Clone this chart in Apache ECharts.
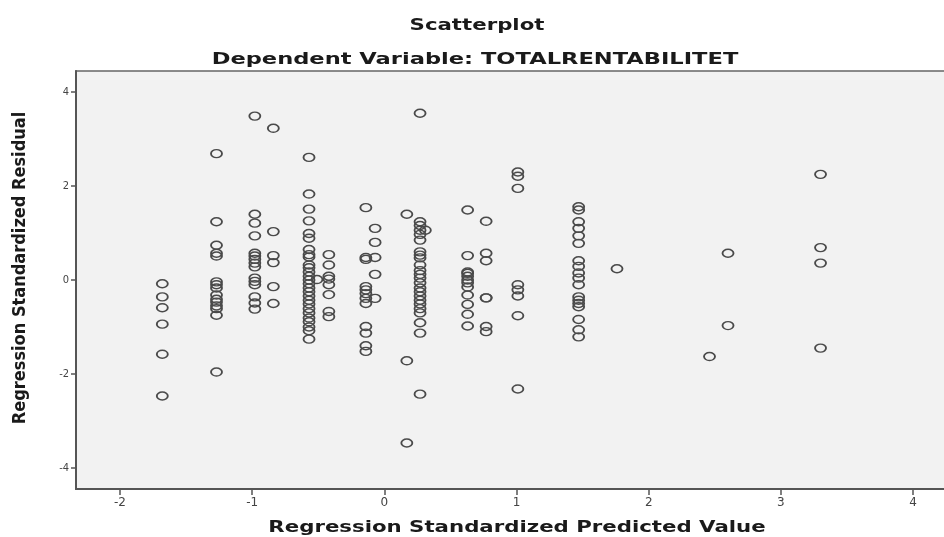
<!DOCTYPE html>
<html>
<head>
<meta charset="utf-8">
<script src="https://cdn.jsdelivr.net/npm/echarts@6/dist/echarts.min.js"></script>
<style>
html,body{margin:0;padding:0;background:#fff;}
#chart{width:944px;height:537px;}
</style>
</head>
<body>
<div id="chart"></div>
<script>
// Predicted value columns (x) and the standardized residuals found at each
const predictedCols = [-1.68, -1.27, -0.98, -0.84, -0.57, -0.51, -0.42, -0.14, -0.07, 0.17, 0.27, 0.31, 0.63, 0.77, 1.01, 1.47, 1.76, 2.46, 2.60, 3.30];
const residualCols = [
  [-0.08, -0.36, -0.59, -0.94, -1.58, -2.47],
  [2.69, 1.24, 0.74, 0.57, 0.51, -0.04, -0.10, -0.17, -0.32, -0.41, -0.47, -0.55, -0.61, -0.75, -1.96],
  [3.49, 1.40, 1.21, 0.94, 0.57, 0.51, 0.44, 0.36, 0.28, 0.04, -0.03, -0.10, -0.36, -0.49, -0.62],
  [3.23, 1.03, 0.52, 0.37, -0.14, -0.50],
  [2.61, 1.83, 1.51, 1.26, 0.99, 0.89, 0.65, 0.54, 0.49, 0.32, 0.26, 0.17, 0.08, 0.00, -0.08, -0.17, -0.25, -0.34, -0.43, -0.51, -0.61, -0.70, -0.81, -0.89, -1.00, -1.08, -1.26],
  [0.01],
  [0.54, 0.32, 0.08, 0.02, -0.10, -0.31, -0.67, -0.78],
  [1.54, 0.48, 0.44, -0.14, -0.21, -0.29, -0.39, -0.50, -0.99, -1.13, -1.40, -1.52],
  [1.10, 0.80, 0.48, 0.12, -0.39],
  [1.40, -1.72, -3.47],
  [3.55, 1.24, 1.16, 1.06, 0.97, 0.85, 0.60, 0.53, 0.47, 0.32, 0.20, 0.12, 0.04, -0.06, -0.17, -0.25, -0.34, -0.43, -0.51, -0.61, -0.70, -0.91, -1.13, -2.43],
  [1.06],
  [1.49, 0.52, 0.17, 0.14, 0.08, 0.00, -0.06, -0.15, -0.32, -0.52, -0.73, -0.98],
  [1.25, 0.57, 0.41, -0.38, -0.38, -0.99, -1.10],
  [2.30, 2.21, 1.95, -0.10, -0.21, -0.34, -0.76, -2.32],
  [1.56, 1.49, 1.24, 1.10, 0.94, 0.78, 0.41, 0.29, 0.15, 0.04, -0.10, -0.36, -0.43, -0.50, -0.57, -0.84, -1.06, -1.21],
  [0.24],
  [-1.63],
  [0.57, -0.97],
  [2.25, 0.69, 0.36, -1.45]
];
const xTickValues = [-2, -1, 0, 1, 2, 3, 4];
const yTickValues = [-4, -2, 0, 2, 4];
const titleText = 'Scatterplot';
const subtitleText = 'Dependent Variable: TOTALRENTABILITET';
const xAxisTitle = 'Regression Standardized Predicted Value';
const yAxisTitle = 'Regression Standardized Residual';

const points = [];
predictedCols.forEach((x, i) => {
  residualCols[i].forEach(y => points.push([x, y]));
});

function wideText(text, x, y, sx) {
  return {
    type: 'text', x: x, y: y, scaleX: sx, scaleY: 1, silent: true,
    style: {
      text: text, fill: '#1a1a1a',
      font: 'bold 16px "DejaVu Sans"',
      align: 'center', verticalAlign: 'middle'
    }
  };
}

const chart = echarts.init(document.getElementById('chart'), null, {renderer: 'canvas'});
chart.setOption({
  animation: false,
  backgroundColor: '#ffffff',
  graphic: [
    wideText(titleText, 477, 26, 1.33),
    wideText(subtitleText, 475, 60, 1.41),
    wideText(xAxisTitle, 517, 528, 1.33),
    {
      type: 'text', x: 20, y: 268, rotation: Math.PI / 2, silent: true,
      style: {
        text: yAxisTitle, fill: '#1a1a1a',
        font: 'bold 18px "DejaVu Sans Condensed"',
        align: 'center', verticalAlign: 'middle'
      }
    }
  ],
  grid: {
    left: 76, top: 71, width: 882, bottom: 48,
    outerBoundsMode: 'none', containLabel: false,
    show: true, backgroundColor: '#f2f2f2', borderColor: '#666', borderWidth: 1.5
  },
  xAxis: {
    type: 'value', min: -2.333, max: 4.34,
    axisLine: {show: true, onZero: false, lineStyle: {color: '#555', width: 2}},
    axisTick: {show: true, customValues: xTickValues, length: 6, lineStyle: {color: '#555', width: 1.5}},
    axisLabel: {customValues: xTickValues, fontFamily: 'DejaVu Sans', fontSize: 12, color: '#444', margin: 8},
    splitLine: {show: false}
  },
  yAxis: {
    type: 'value', min: -4.45, max: 4.45,
    axisLine: {show: true, onZero: false, lineStyle: {color: '#555', width: 2}},
    axisTick: {show: true, customValues: yTickValues, length: 5, lineStyle: {color: '#555', width: 1.5}},
    axisLabel: {customValues: yTickValues, fontFamily: 'DejaVu Sans Condensed', fontSize: 11, color: '#444', margin: 7},
    splitLine: {show: false}
  },
  series: [{
    type: 'scatter',
    data: points,
    symbol: 'circle',
    symbolSize: [11, 8],
    itemStyle: {color: 'rgba(0,0,0,0)', borderColor: '#4a4a4a', borderWidth: 1.6, opacity: 1}
  }]
});
</script>
</body>
</html>
